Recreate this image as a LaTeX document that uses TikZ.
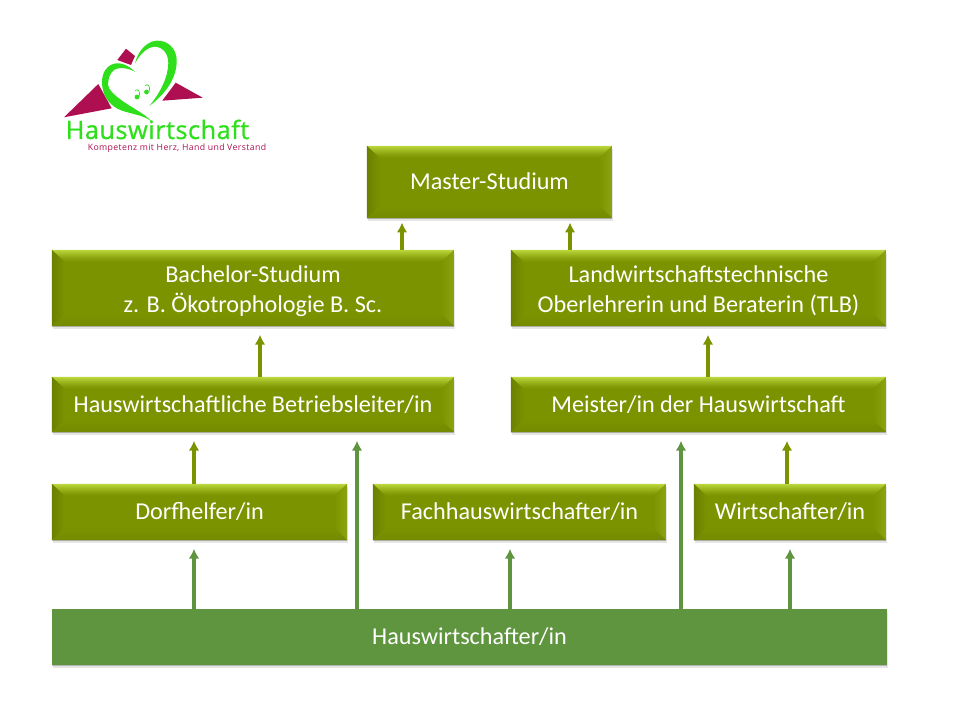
\documentclass[tikz,border=0pt]{standalone}
\usepackage{fontspec}
\setmainfont{Carlito}
\newfontfamily\logofont[FakeBold=0.9,LetterSpace=2]{Open Sans}
\newfontfamily\sloganfont[LetterSpace=4.4]{Open Sans}
\usetikzlibrary{arrows.meta,shadows}
\definecolor{oliv}{HTML}{7C9300}
\definecolor{olivhell}{HTML}{BBD83C}
\definecolor{olivdunkel}{HTML}{6B8000}
\definecolor{olivrechts}{HTML}{8DA412}
\definecolor{basis}{HTML}{5F953F}
\definecolor{logogruen}{HTML}{2FDF1C}
\definecolor{logorot}{HTML}{AE0F50}
\tikzset{
  weichschatten/.style={
    drop shadow={shadow xshift=0pt, shadow yshift=-1pt, opacity=.22, fill=black},
    drop shadow={shadow xshift=0.5pt, shadow yshift=-2.4pt, opacity=.1, fill=black}},
  einzeilig/.style={text height=11pt, text depth=0pt},
  bevelbox/.style={weichschatten, fill=oliv, text=white, inner sep=0pt, align=center,
    font=\fontsize{17.2}{22}\selectfont,
    path picture={
      \def\nw{path picture bounding box.north west}
      \def\ne{path picture bounding box.north east}
      \def\sw{path picture bounding box.south west}
      \def\se{path picture bounding box.south east}
      \foreach \i in {0,...,11} {
        \pgfmathsetmacro\anteil{100*((12-\i)/12)^1.3}
        \fill[olivhell!\anteil!oliv] ([shift={(\i,\i)}]\nw) -- ([shift={(-\i,\i)}]\ne) -- ([shift={(-13,12)}]\ne) -- ([shift={(13,12)}]\nw) -- cycle;
      }
      \shade[left color=olivdunkel, right color=oliv] (\nw) -- ([shift={(13,12)}]\nw) -- ([shift={(13,-12)}]\sw) -- (\sw) -- cycle;
      \shade[left color=oliv, right color=olivrechts] (\ne) -- ([shift={(-13,12)}]\ne) -- ([shift={(-13,-12)}]\se) -- (\se) -- cycle;
      \shade[top color=oliv, bottom color=olivdunkel!50!oliv] (\sw) -- (\se) -- ([shift={(-13,-12)}]\se) -- ([shift={(13,-12)}]\sw) -- cycle;
    }},
  basisbox/.style={weichschatten, einzeilig, fill=basis, text=white, inner sep=0pt, font=\fontsize{17.2}{22}\selectfont},
  oberpfeil/.style={draw=oliv, line width=2.3pt, -{Latex[length=7pt,width=7.5pt]}},
  basispfeil/.style={draw=basis, line width=2.3pt, -{Latex[length=7pt,width=7.5pt]}}
}
\begin{document}
\begin{tikzpicture}[x=0.025cm, y=-0.025cm]
\useasboundingbox (0,0) rectangle (960,720);
% Logo
\fill[logorot] (64,117.3) -- (98.3,84) -- (111.7,108.3) -- cycle;
\fill[logorot] (126,48.7) -- (135,56) -- (131,65) -- (117.3,60) -- cycle;
\fill[logorot] (175.7,82.7) -- (202.7,97.7) -- (162.3,100.7) -- cycle;
\fill[logogruen] (149.3,106) .. controls (168,92) and (177,76) .. (176.7,60) .. controls (176.5,48) and (167,40) .. (156.7,40.7) .. controls (148,41) and (138,50) .. (135,63.3) .. controls (140,54) and (148,46.5) .. (155,46.7) .. controls (163,47) and (168.5,54) .. (168.3,63.3) .. controls (168,78) and (160,93) .. (149.3,106) -- cycle;
\fill[logogruen] (135,71.7) .. controls (128,65) and (122,63) .. (116.7,63.3) .. controls (107,64) and (101.5,73) .. (102,83.3) .. controls (102.5,95) and (108,103) .. (116.7,108.3) .. controls (127,114) and (143,114) .. (151.7,121.7) .. controls (145,113) and (127,106) .. (115,95) .. controls (110,91) and (107,86) .. (108.3,81.7) .. controls (109,74) and (113,69) .. (118.3,68.3) .. controls (124,67.5) and (130,69) .. (135,71.7) -- cycle;
\fill[logogruen] (137,97) circle (2.4); % Note.0
\fill[logogruen] (146.5,92) circle (2.4); % Note.1
\draw[logogruen, line width=0.5pt] (135,90.5) .. controls (138,88) and (141,92) .. (139,97);
\draw[logogruen, line width=0.5pt] (145,85.5) .. controls (148,83) and (151,87) .. (149,92);
\node[text=logogruen, anchor=base, inner sep=0pt, font=\logofont\fontsize{18}{20}\selectfont] (logotitel) at (157.5,139) {Hauswirtschaft};
\node[text=logorot, anchor=base, inner sep=0pt, font=\sloganfont\fontsize{6.2}{7}\selectfont] (logotext) at (177,151) {Kompetenz mit Herz, Hand und Verstand};
% Stufen
\node[bevelbox, einzeilig, minimum width=6.125cm, minimum height=1.8cm] (master) at (489.5,182) {Master-Studium};
\node[bevelbox, minimum width=10.05cm, minimum height=1.9cm] (bachelor) at (253,288) {\rule{0pt}{19pt}Bachelor-Studium\\[-0.7pt]z. B. Ökotrophologie B. Sc.\rule[-5pt]{0pt}{5pt}};
\node[bevelbox, minimum width=9.375cm, minimum height=1.9cm] (tlb) at (698.5,288) {\rule{0pt}{19pt}Landwirtschaftstechnische\\[-0.7pt]Oberlehrerin und Beraterin (TLB)\rule[-5pt]{0pt}{5pt}};
\node[bevelbox, einzeilig, minimum width=10.05cm, minimum height=1.375cm] (leiter) at (253,404.5) {Hauswirtschaftliche Betriebsleiter/in};
\node[bevelbox, einzeilig, minimum width=9.375cm, minimum height=1.375cm] (meister) at (698.5,404.5) {Meister/in der Hauswirtschaft};
\node[bevelbox, einzeilig, minimum width=7.375cm, minimum height=1.4cm] (dorf) at (199.5,512) {Dorfhelfer/in};
\node[bevelbox, einzeilig, minimum width=7.325cm, minimum height=1.4cm] (fach) at (519.5,512) {Fachhauswirtschafter/in};
\node[bevelbox, einzeilig, minimum width=4.8cm, minimum height=1.4cm] (wirt) at (790,512) {Wirtschafter/in};
\node[basisbox, minimum width=20.875cm, minimum height=1.4cm] (basis) at (469.5,637) {Hauswirtschafter/in};
% Pfeile
\foreach \von/\nach/\x/\abstand in {bachelor/master/402/3pt, tlb/master/570/3pt, leiter/bachelor/260/6pt, meister/tlb/708/6pt, dorf/leiter/194/6pt, wirt/meister/787/6pt}
  \draw[oberpfeil, shorten >=\abstand] (\von.north -| \x,0) -- (\nach.south -| \x,0);
\foreach \nach/\x in {dorf/194, leiter/357, fach/510, meister/681, wirt/790}
  \draw[basispfeil, shorten >=6pt] (basis.north -| \x,0) -- (\nach.south -| \x,0);
\end{tikzpicture}
\end{document}
